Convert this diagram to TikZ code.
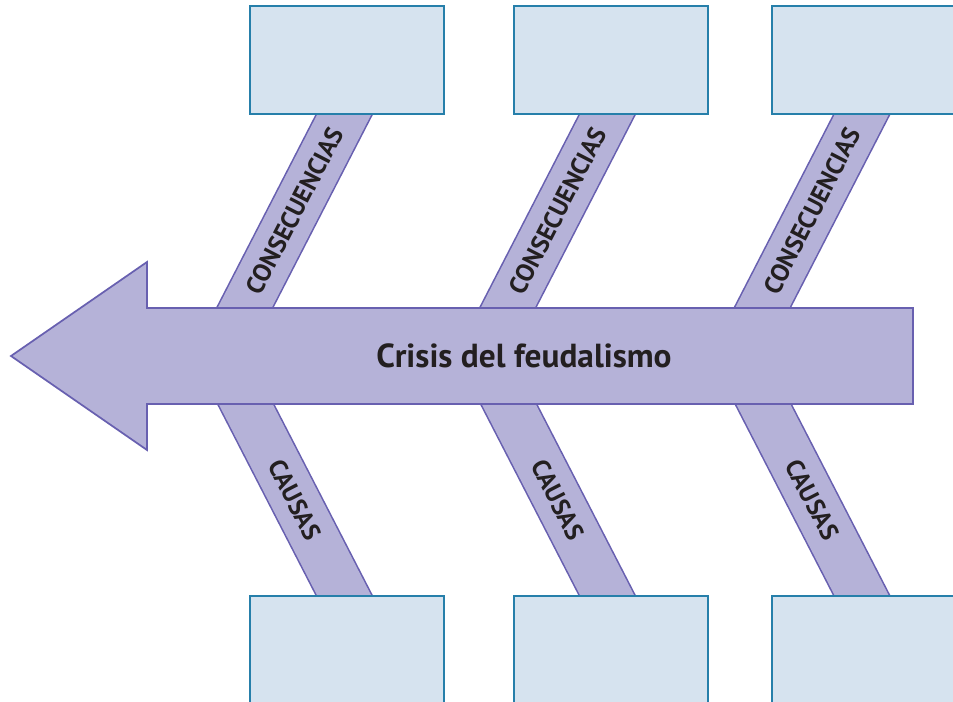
\documentclass[tikz,border=0pt]{standalone}
\usepackage{fontspec}
\setmainfont{PT Sans}
\definecolor{bonefill}{RGB}{181,178,216}
\definecolor{bonedraw}{RGB}{104,96,176}
\definecolor{boxfill}{RGB}{214,227,239}
\definecolor{boxdraw}{RGB}{38,127,170}
\definecolor{ink}{RGB}{35,31,32}
\tikzset{
  boxnode/.style={draw=boxdraw, fill=boxfill, line width=1.5pt, minimum width=144pt, minimum height=79.5pt, inner sep=0pt},
  boxlow/.style={boxnode, minimum height=90pt},
  bone/.style={draw=bonedraw, line width=1.2pt, double=bonefill, double distance=36pt, line cap=butt},
  bonelabel/.style={sloped, font=\bfseries\fontsize{19}{20}\selectfont, text=ink, inner sep=0pt},
  spine/.style={draw=bonedraw, fill=bonefill, line width=1.3pt, line join=miter},
}
\begin{document}
\begin{tikzpicture}[x=0.75pt,y=-0.75pt]
\useasboundingbox (0,0) rectangle (953,702);
\clip (0,0) rectangle (953,702);
% box nodes (placed for anchors, painted later)
\node[boxnode, draw=none, fill=none] (b1) at (347,60) {};
\node[boxnode, draw=none, fill=none] (b2) at (611,60) {};
\node[boxnode, draw=none, fill=none] (b3) at (869,60) {};
\node[boxlow, draw=none, fill=none] (c1) at (347,657) {};
\node[boxlow, draw=none, fill=none] (c2) at (611,657) {};
\node[boxlow, draw=none, fill=none] (c3) at (869,657) {};
% bone ends on the spine
\coordinate (t1) at (219.9,356);
\coordinate (t2) at (482.9,356);
\coordinate (t3) at (737.4,356);
\coordinate (u1) at (220.9,356);
\coordinate (u2) at (483.9,356);
\coordinate (u3) at (738.4,356);
% bones
\foreach \i/\s in {1/-1.875pt,2/-2.625pt,3/-5.25pt}{
  \draw[bone, shorten <=-15pt] ([xshift=\s]b\i.south) -- node[bonelabel, pos=0.4] {CONSECUENCIAS} (t\i);
  \draw[bone, shorten <=-15pt] ([xshift=\s]c\i.north) -- node[bonelabel, pos=0.4] {CAUSAS} (u\i);
}
% spine arrow
\draw[spine] (11,356) -- (147,262) -- (147,308) -- (913,308) -- (913,404) -- (147,404) -- (147,450) -- cycle;
\node[font=\bfseries\fontsize{25}{27}\selectfont, text=ink, anchor=base, inner sep=0pt] (title) at (524,367) {Crisis del feudalismo};
% boxes painted
\foreach \n in {b1,b2,b3,c1,c2,c3}{
  \draw[draw=boxdraw, fill=boxfill, line width=1.5pt] (\n.south west) rectangle (\n.north east);
}
\end{tikzpicture}
\end{document}
